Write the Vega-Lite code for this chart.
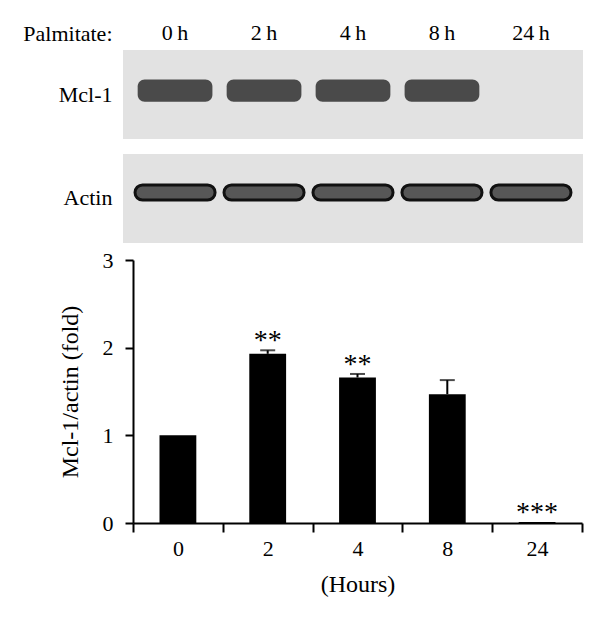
{
  "$schema": "https://vega.github.io/schema/vega-lite/v6.json",
  "autosize": {"type": "none"},
  "padding": {"left": 123, "top": 50, "right": 477, "bottom": 571},
  "config": {
    "font": "Liberation Serif",
    "view": {"stroke": null},
    "axis": {"labelColor": "black", "titleColor": "black", "titleFontWeight": "normal", "grid": false}
  },
  "datasets": {
    "panels": [{"row": "Mcl-1"}, {"row": "Actin"}],
    "blot": [
      {"row": "Mcl-1", "lane": "0"},
      {"row": "Mcl-1", "lane": "2"},
      {"row": "Mcl-1", "lane": "4"},
      {"row": "Mcl-1", "lane": "8"},
      {"row": "Actin", "lane": "0"},
      {"row": "Actin", "lane": "2"},
      {"row": "Actin", "lane": "4"},
      {"row": "Actin", "lane": "8"},
      {"row": "Actin", "lane": "24"}
    ],
    "bars": [
      {"hour": "0", "mean": 1.0, "upper": 1.0, "sig": ""},
      {"hour": "2", "mean": 1.93, "upper": 1.97, "sig": "**"},
      {"hour": "4", "mean": 1.66, "upper": 1.7, "sig": "**"},
      {"hour": "8", "mean": 1.47, "upper": 1.63, "sig": ""},
      {"hour": "24", "mean": 0.01, "upper": 0.01, "sig": "***"}
    ]
  },
  "bounds": "flush",
  "spacing": 17,
  "vconcat": [
    {
      "width": 460,
      "height": 193,
      "layer": [
        {
          "data": {"name": "panels"},
          "mark": {"type": "rect", "color": "#e2e2e2"},
          "encoding": {
            "y": {"field": "row", "type": "nominal", "sort": ["Mcl-1", "Actin"]}
          }
        },
        {
          "data": {"name": "blot"},
          "transform": [{"filter": "datum.row === 'Mcl-1'"}],
          "mark": {"type": "rect", "color": "#4a4a4a", "width": {"band": 0.84}, "height": {"band": 0.25}, "cornerRadius": 7, "yOffset": -4},
          "encoding": {
            "x": {
              "field": "lane", "type": "ordinal", "sort": ["0", "2", "4", "8", "24"],
              "scale": {"domain": ["0", "2", "4", "8", "24"], "paddingInner": 0, "paddingOuter": 0.085},
              "axis": {
                "orient": "top", "domain": false, "ticks": false, "labelAngle": 0,
                "labelFontSize": 22, "labelPadding": 6,
                "labelExpr": "datum.label + '\u2009h'",
                "title": "Palmitate:", "titleFontSize": 22, "titleAngle": 0,
                "titleAlign": "right", "titleBaseline": "alphabetic", "titleX": -11, "titleY": -10
              }
            },
            "y": {"field": "row", "type": "nominal", "sort": ["Mcl-1", "Actin"]}
          }
        },
        {
          "data": {"name": "blot"},
          "transform": [{"filter": "datum.row === 'Actin'"}],
          "mark": {"type": "rect", "fill": "#575757", "stroke": "#111111", "strokeWidth": 3, "width": {"band": 0.9}, "height": {"band": 0.17}, "cornerRadius": 9, "yOffset": -6},
          "encoding": {
            "x": {"field": "lane", "type": "ordinal", "sort": ["0", "2", "4", "8", "24"]},
            "y": {"field": "row", "type": "nominal", "sort": ["Mcl-1", "Actin"]}
          }
        }
      ],
      "encoding": {
        "y": {
          "field": "row", "type": "nominal", "sort": ["Mcl-1", "Actin"],
          "scale": {"paddingInner": 0.144, "paddingOuter": 0},
          "axis": {"title": null, "domain": false, "ticks": false, "labelFontSize": 22, "labelPadding": 11}
        }
      }
    },
    {
      "width": 459,
      "height": 263,
      "data": {"name": "bars"},
      "encoding": {
        "x": {
          "field": "hour", "type": "ordinal", "sort": ["0", "2", "4", "8", "24"],
          "scale": {"range": [10, 459], "paddingInner": 0, "paddingOuter": 0},
          "axis": {
            "tickBand": "extent", "tickSize": 9, "tickWidth": 2, "tickColor": "black",
            "domainWidth": 2, "domainColor": "black", "labelAngle": 0,
            "labelFontSize": 22, "labelPadding": 6,
            "title": "(Hours)", "titleFontSize": 24, "titlePadding": 13
          }
        }
      },
      "layer": [
        {
          "mark": {"type": "bar", "color": "black", "width": {"band": 0.41}},
          "encoding": {
            "y": {
              "field": "mean", "type": "quantitative",
              "scale": {"domain": [0, 3]},
              "axis": {
                "values": [0, 1, 2, 3], "format": "d", "offset": -10,
                "tickSize": 8, "tickWidth": 2, "tickColor": "black",
                "domainWidth": 2, "domainColor": "black",
                "labelFontSize": 22, "labelPadding": 12,
                "title": "Mcl-1/actin (fold)", "titleFontSize": 24, "titlePadding": 20
              }
            }
          }
        },
        {
          "transform": [{"filter": "datum.upper > datum.mean"}],
          "mark": {"type": "rule", "color": "black", "strokeWidth": 2},
          "encoding": {
            "y": {"field": "mean", "type": "quantitative"},
            "y2": {"field": "upper"}
          }
        },
        {
          "transform": [{"filter": "datum.upper > datum.mean"}],
          "mark": {"type": "tick", "color": "black", "size": 15, "thickness": 2},
          "encoding": {
            "y": {"field": "upper", "type": "quantitative"}
          }
        },
        {
          "transform": [{"filter": "datum.sig !== ''"}],
          "mark": {"type": "text", "fontSize": 28, "baseline": "bottom", "dy": 5, "color": "black"},
          "encoding": {
            "y": {"field": "upper", "type": "quantitative"},
            "text": {"field": "sig"}
          }
        }
      ]
    }
  ]
}
